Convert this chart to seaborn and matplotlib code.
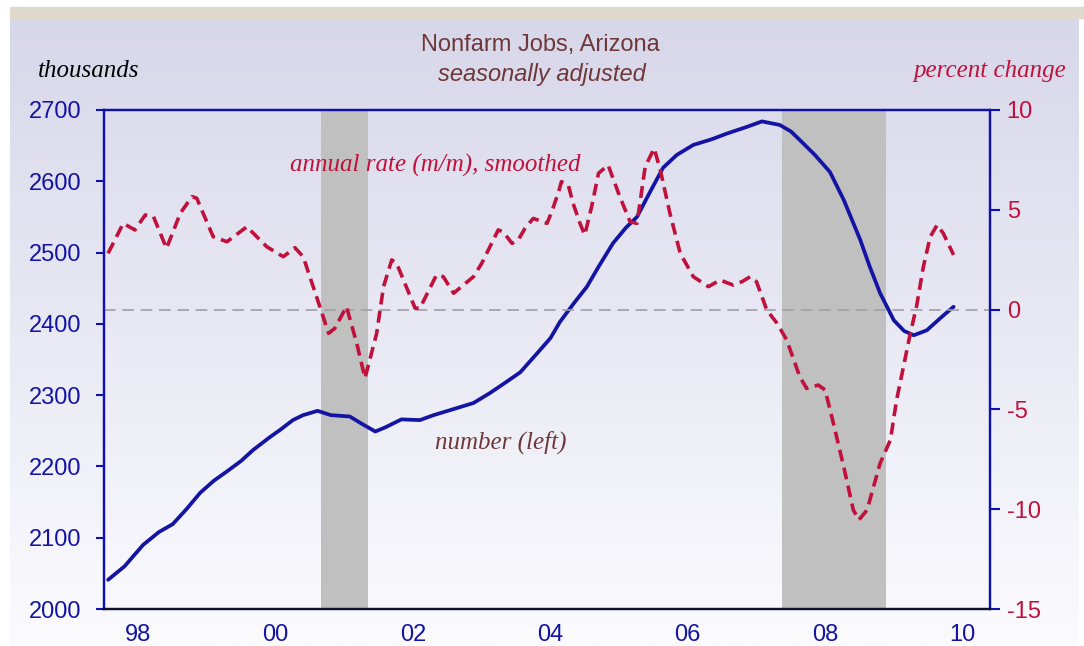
import numpy as np
import seaborn as sns
import matplotlib.pyplot as plt
from matplotlib.patches import Rectangle

# nombre d'emplois (milliers, axe gauche)
annees_nb = [1998.06, 1998.3, 1998.57, 1998.8, 1999.0, 1999.2, 1999.4, 1999.6, 1999.79,
             2000.0, 2000.17, 2000.4, 2000.56, 2000.75, 2000.9, 2001.11, 2001.3, 2001.58,
             2001.75, 2001.95, 2002.1, 2002.33, 2002.6, 2002.8, 2003.04, 2003.38, 2003.62,
             2003.85, 2004.06, 2004.3, 2004.5, 2004.64, 2004.85, 2005.03, 2005.2, 2005.41,
             2005.6, 2005.76, 2005.95, 2006.14, 2006.34, 2006.58, 2006.85, 2007.07, 2007.35,
             2007.58, 2007.84, 2008.0, 2008.13, 2008.35, 2008.57, 2008.77, 2009.01, 2009.15,
             2009.3, 2009.5, 2009.65, 2009.79, 2009.98, 2010.2, 2010.37]
emplois = [2041, 2060, 2090, 2108, 2119, 2140, 2163, 2180, 2193,
           2208, 2223, 2240, 2251, 2265, 2272, 2278, 2272, 2270,
           2260, 2249, 2255, 2266, 2265, 2272, 2279, 2289, 2303,
           2318, 2332, 2358, 2380, 2403, 2430, 2452, 2480, 2513,
           2535, 2550, 2585, 2619, 2637, 2651, 2659, 2667, 2676,
           2684, 2679, 2670, 2658, 2637, 2613, 2574, 2518, 2480,
           2443, 2405, 2390, 2384, 2391, 2410, 2424]

# taux annuel (m/m) lissé, % (axe droit)
annees_taux = [1998.06, 1998.28, 1998.45, 1998.6, 1998.72, 1998.91, 1999.11, 1999.28, 1999.35,
               1999.59, 1999.79, 2000.08, 2000.37, 2000.61, 2000.78, 2000.9, 2001.15, 2001.27,
               2001.36, 2001.53, 2001.68, 2001.8, 2001.97, 2002.07, 2002.19, 2002.26, 2002.53,
               2002.6, 2002.84, 2002.94, 2003.09, 2003.38, 2003.5, 2003.74, 2003.81, 2003.94,
               2004.03, 2004.13, 2004.25, 2004.45, 2004.52, 2004.62, 2004.66, 2004.76, 2004.83,
               2004.93, 2005.0, 2005.1, 2005.2, 2005.34, 2005.51, 2005.66, 2005.76, 2005.88,
               2006.01, 2006.1, 2006.24, 2006.39, 2006.58, 2006.8, 2006.97, 2007.16, 2007.29,
               2007.41, 2007.5, 2007.65, 2007.8, 2007.94, 2008.13, 2008.23, 2008.4, 2008.5,
               2008.62, 2008.77, 2008.91, 2008.99, 2009.11, 2009.3, 2009.45, 2009.54, 2009.64,
               2009.74, 2009.83, 2009.93, 2010.03, 2010.13, 2010.22, 2010.37]
taux = [2.82, 4.32, 3.99, 4.74, 4.66, 3.07, 4.82, 5.66, 5.58,
        3.65, 3.40, 4.15, 3.15, 2.65, 3.1, 2.65, 0.07, -1.19,
        -0.94, 0.15, -1.69, -3.43, -1.19, 1.15, 2.49, 2.32, 0.07,
        0.07, 1.73, 1.65, 0.82, 1.65, 2.32, 3.99, 3.9, 3.32,
        3.49, 4.07, 4.57, 4.32, 4.91, 5.91, 6.41, 6.24, 5.32,
        4.32, 3.74, 5.16, 6.83, 7.24, 5.66, 4.40, 4.32, 7.16,
        8.08, 6.99, 4.82, 2.82, 1.65, 1.15, 1.48, 1.23, 1.40,
        1.65, 1.40, -0.02, -0.69, -1.52, -3.36, -3.95, -3.78, -4.03,
        -5.70, -7.87, -10.04, -10.54, -10.04, -7.70, -6.53, -4.53, -2.86,
        -1.19, 0.15, 2.15, 3.65, 4.24, 3.82, 2.74]

# récessions (zones grises)
recessions = [(2001.16, 2001.84), (2007.87, 2009.38)]

etiquettes_x = ['98', '00', '02', '04', '06', '08', '10']
ticks_gauche = [2000, 2100, 2200, 2300, 2400, 2500, 2600, 2700]
ticks_droite = [-15, -10, -5, 0, 5, 10]

bleu = '#1414a4'
bleu_axe = '#1010b0'
rouge = '#c0103c'
brun = '#6e3838'

sns.set_style('white')
plt.rcParams['font.family'] = ['Liberation Sans', 'DejaVu Sans']
plt.rcParams['axes.unicode_minus'] = False

W, H = 1084, 646
fig = plt.figure(figsize=(W / 100, H / 100), dpi=100)
fig.patch.set_facecolor('white')

# fond dégradé lavande -> blanc
fond = fig.add_axes([10 / W, 0, (1079 - 10) / W, (H - 18) / H], zorder=-10)
grad = np.linspace(0, 1, 256).reshape(-1, 1)
c_haut = np.array([215, 215, 234]) / 255
c_bas = np.array([251, 251, 254]) / 255
img = c_haut + (c_bas - c_haut) * grad[:, :, None]
fond.imshow(img, aspect='auto', extent=[0, 1, 0, 1])
fond.axis('off')
fig.add_artist(Rectangle((10 / W, (H - 18) / H), 1 - 10 / W, 11 / H,
                         transform=fig.transFigure, color='#e0d8cc', zorder=-9))

ax = fig.add_axes([104 / W, 1 - 609 / H, 886 / W, 499 / H])
ax.set_facecolor('none')
ax2 = ax.twinx()

for debut, fin in recessions:
    ax.axvspan(debut, fin, color='#c0c0c0', lw=0, zorder=0)

sns.lineplot(x=annees_nb, y=emplois, ax=ax, color=bleu, linewidth=2.7, zorder=3)
sns.lineplot(x=annees_taux, y=taux, ax=ax2, color=rouge, linewidth=2.6, zorder=3)
ax2.lines[-1].set_dashes((3.3, 1.8))
ax2.axhline(0, color='#a0a0a0', lw=1.2, dashes=(7, 4), zorder=1)

ax.set_xlim(1998, 2010.9)
ax.set_ylim(2000, 2700)
ax2.set_ylim(-15, 10)

# ticks annuels, étiquettes au milieu des années paires
ax.set_xticks(np.arange(1998, 2011))
ax.set_xticklabels([])
ax.set_xticks([1998.5 + 2 * i for i in range(len(etiquettes_x))], minor=True)
ax.set_xticklabels(etiquettes_x, minor=True)
ax.tick_params(axis='x', which='major', direction='out', length=4, width=1.3, color=bleu_axe)
ax.tick_params(axis='x', which='minor', length=0, pad=11, labelsize=17, labelcolor=bleu)

ax.set_yticks(ticks_gauche)
ax.tick_params(axis='y', direction='out', length=6, width=1.5, color=bleu_axe,
               labelsize=17, labelcolor=bleu, pad=10, left=True)
ax2.set_yticks(ticks_droite)
ax2.tick_params(axis='y', direction='out', length=7, width=1.5, color=bleu_axe,
                labelsize=17, labelcolor=rouge, pad=5, right=True)
ax.set_xlabel('')
ax.set_ylabel('')
ax2.set_ylabel('')

for a in (ax, ax2):
    for cote in ['left', 'right', 'top']:
        a.spines[cote].set_color(bleu_axe)
        a.spines[cote].set_linewidth(1.6)
    a.spines['bottom'].set_color('#101030')
    a.spines['bottom'].set_linewidth(1.6)

# titres et annotations
fig.text(540 / W, 1 - 45 / H, 'Nonfarm Jobs, Arizona', ha='center', va='center',
         fontsize=17, color=brun)
fig.text(542 / W, 1 - 74 / H, 'seasonally adjusted', ha='center', va='center',
         fontsize=17, color=brun, style='italic')
fig.text(38 / W, 1 - 71 / H, 'thousands', ha='left', va='center', fontsize=18,
         color='black', style='italic', family='Liberation Serif')
fig.text(1066 / W, 1 - 71 / H, 'percent change', ha='right', va='center', fontsize=18,
         color=rouge, style='italic', family='Liberation Serif')
fig.text(435 / W, 1 - 165 / H, 'annual rate (m/m), smoothed', ha='center', va='center',
         fontsize=18, color=rouge, style='italic', family='Liberation Serif')
fig.text(501 / W, 1 - 442 / H, 'number (left)', ha='center', va='center',
         fontsize=18, color=brun, style='italic', family='Liberation Serif')

fig.savefig('out.png', dpi=100)
